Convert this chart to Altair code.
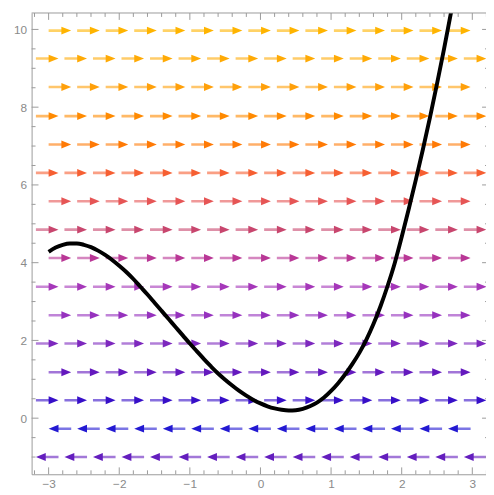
import altair as alt
import pandas as pd

# ---- axis ranges ----
x_min, x_max = -3.241, 3.194
y_min, y_max = -1.443, 10.423

# ---- stream rows: y level, direction, first arrow start, arrow count, colour ----
row_y = [9.97, 9.25, 8.52, 7.77, 7.04, 6.31, 5.58, 4.85, 4.12, 3.38, 2.65, 1.92, 1.18, 0.46, -0.27, -1.0]
row_dir = [1, 1, 1, 1, 1, 1, 1, 1, 1, 1, 1, 1, 1, 1, -1, -1]
row_start = [-3.0, -3.18, -3.0, -3.18, -3.0, -3.18, -3.0, -3.18,
             -3.0, -3.18, -3.0, -3.18, -3.0, -3.18, -3.0, -3.18]
row_count = [15, 16, 15, 16, 15, 16, 15, 16, 15, 16, 15, 16, 15, 16, 15, 16]
row_color = ["#ffb400", "#ffaa05", "#ffa00a", "#ff8a00", "#ff7a05", "#f65f32",
             "#e65555", "#c8466e", "#b93796", "#a537b9", "#9632be", "#7d28be",
             "#6419be", "#370fc8", "#2319d2", "#641ebe"]

# ---- black solution curve ----
curve_x = [-3.0, -2.9, -2.8, -2.7, -2.6, -2.5, -2.4, -2.3, -2.2, -2.1, -2.0, -1.9, -1.8,
           -1.7, -1.6, -1.5, -1.4, -1.3, -1.2, -1.1, -1.0, -0.9, -0.8, -0.7, -0.6, -0.5,
           -0.4, -0.3, -0.2, -0.1, 0.0, 0.1, 0.2, 0.3, 0.4, 0.5, 0.6, 0.7, 0.8, 0.9, 1.0,
           1.1, 1.2, 1.3, 1.4, 1.5, 1.6, 1.7, 1.8, 1.9, 2.0, 2.1, 2.2, 2.3, 2.4, 2.5, 2.6, 2.7]
curve_y = [4.28, 4.39, 4.46, 4.495, 4.495, 4.46, 4.40, 4.31, 4.20, 4.07, 3.92, 3.76, 3.58,
           3.38, 3.18, 2.97, 2.76, 2.55, 2.34, 2.13, 1.92, 1.72, 1.52, 1.33, 1.15, 0.99,
           0.84, 0.70, 0.58, 0.47, 0.38, 0.305, 0.25, 0.215, 0.198, 0.205, 0.24, 0.305, 0.40, 0.53, 0.70,
           0.90, 1.13, 1.39, 1.68, 2.02, 2.42, 2.88, 3.40, 3.98, 4.66, 5.38, 6.13, 6.91, 7.73, 8.60, 9.50, 10.45]

# ---- tick positions ----
x_major = [-3, -2, -1, 0, 1, 2, 3]
x_minor = [-3.2, -2.8, -2.6, -2.4, -2.2, -1.8, -1.6, -1.4, -1.2, -0.8, -0.6, -0.4, -0.2,
           0.2, 0.4, 0.6, 0.8, 1.2, 1.4, 1.6, 1.8, 2.2, 2.4, 2.6, 2.8, 3.2]
y_major = [0, 2, 4, 6, 8, 10]
y_minor = [-1.0, -0.5, 0.5, 1.0, 1.5, 2.5, 3.0, 3.5, 4.5, 5.0, 5.5, 6.5, 7.0, 7.5,
           8.5, 9.0, 9.5]

spacing = 0.404
arrow_len = 0.32
head_back = 0.07

shafts, heads = [], []
for y, d, s, n, c in zip(row_y, row_dir, row_start, row_count, row_color):
    for k in range(n):
        a = s + k * spacing
        b = a + arrow_len
        tail, tip = (a, b) if d > 0 else (b, a)
        center = tip - d * head_back
        shafts.append(dict(x=tail, x2=center, y=y, c=c))
        heads.append(dict(x=center, y=y, c=c, d="R" if d > 0 else "L"))

shaft_df = pd.DataFrame(shafts)
head_df = pd.DataFrame(heads)
curve_df = pd.DataFrame({"x": curve_x, "y": curve_y})

W, H = 462, 469
FRAME = "#9a9a9a"
LABEL = "#8a8a8a"
FONT = "Liberation Sans"

xs = alt.Scale(domain=[x_min, x_max], nice=False, zero=False)
ys = alt.Scale(domain=[y_min, y_max], nice=False, zero=False)
x_axis = alt.Axis(values=x_major, ticks=False, grid=False, domainColor=FRAME, domainWidth=1,
                  labelColor=LABEL, labelFontSize=12, labelFont=FONT, labelPadding=4,
                  title=None, labelFlush=False)
y_axis = alt.Axis(values=y_major, ticks=False, grid=False, domainColor=FRAME, domainWidth=1,
                  labelColor=LABEL, labelFontSize=12, labelFont=FONT, labelPadding=5,
                  title=None)

shaft_layer = alt.Chart(shaft_df).mark_rule(strokeWidth=2.6, opacity=0.6, clip=True).encode(
    x=alt.X("x:Q", scale=xs, axis=x_axis),
    x2="x2:Q",
    y=alt.Y("y:Q", scale=ys, axis=y_axis),
    color=alt.Color("c:N", scale=None),
)

path_r = "M-1,-0.8L1,0L-1,0.8Z"
path_l = "M1,-0.8L-1,0L1,0.8Z"
head_layer = alt.Chart(head_df).mark_point(filled=True, opacity=1, size=100, clip=True).encode(
    x=alt.X("x:Q", scale=xs, axis=x_axis),
    y=alt.Y("y:Q", scale=ys, axis=y_axis),
    color=alt.Color("c:N", scale=None),
    shape=alt.Shape("d:N", scale=alt.Scale(domain=["R", "L"], range=[path_r, path_l]), legend=None),
)

curve_layer = alt.Chart(curve_df).mark_line(color="black", strokeWidth=4, clip=True,
                                            interpolate="monotone").encode(
    x=alt.X("x:Q", scale=xs, axis=x_axis),
    y=alt.Y("y:Q", scale=ys, axis=y_axis),
)

xt_major = pd.DataFrame({"t": x_major})
xt_minor = pd.DataFrame({"t": x_minor})
yt_major = pd.DataFrame({"t": y_major})
yt_minor = pd.DataFrame({"t": y_minor})


def xticks(df, y0, y1):
    return alt.Chart(df).mark_rule(color=FRAME, strokeWidth=1).encode(
        x=alt.X("t:Q", scale=xs, axis=x_axis), y=alt.value(y0), y2=alt.value(y1))


def yticks(df, x0, x1):
    return alt.Chart(df).mark_rule(color=FRAME, strokeWidth=1).encode(
        y=alt.Y("t:Q", scale=ys, axis=y_axis), x=alt.value(x0), x2=alt.value(x1))


tick_layers = [
    xticks(xt_major, H, H - 7), xticks(xt_minor, H, H - 4),
    xticks(xt_major, 0, 7), xticks(xt_minor, 0, 4),
    yticks(yt_major, 0, 7), yticks(yt_minor, 0, 4),
    yticks(yt_major, W + 3, W - 4), yticks(yt_minor, W + 3, W - 1),
]

top_frame = alt.Chart(pd.DataFrame({"a": [0]})).mark_rule(color=FRAME, strokeWidth=1).encode(
    x=alt.value(0), x2=alt.value(W), y=alt.value(0))

chart = alt.layer(shaft_layer, head_layer, curve_layer, *tick_layers, top_frame).properties(
    width=W, height=H,
    padding={"left": 24, "top": 1, "right": 0, "bottom": 17},
    autosize=alt.AutoSizeParams(type="none"),
).configure_view(stroke=None)

chart.save("out.html", embed_options={"renderer": "svg", "actions": False})
